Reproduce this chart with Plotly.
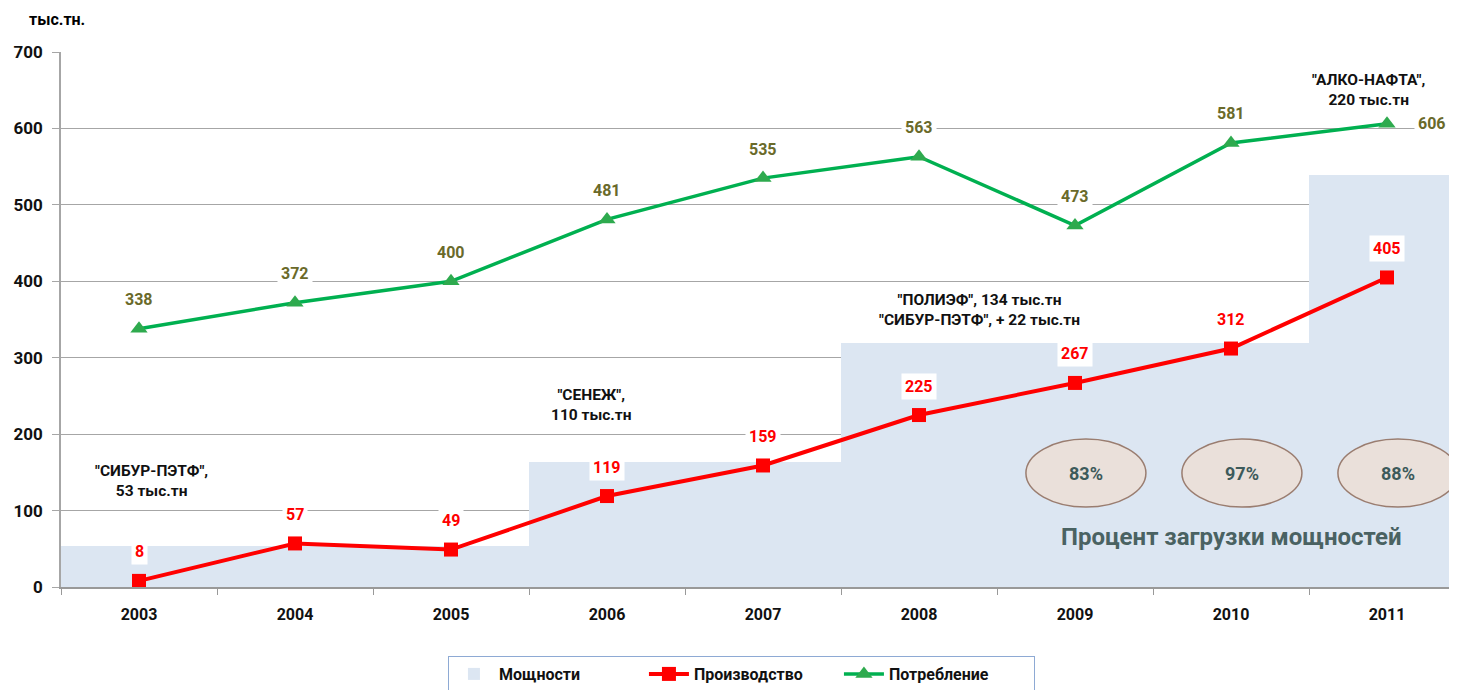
import plotly.graph_objects as go

years = ["2003", "2004", "2005", "2006", "2007", "2008", "2009", "2010", "2011"]
capacity = [53, 53, 53, 163, 163, 319, 319, 319, 539]
production = [8, 57, 49, 119, 159, 225, 267, 312, 405]
consumption = [338, 372, 400, 481, 535, 563, 473, 581, 606]
load_years = ["2009", "2010", "2011"]
load_pct = ["83%", "97%", "88%"]
plants = [
    ("\"СИБУР-ПЭТФ\",<br>53 тыс.тн", 0.08, 139),
    ("\"СЕНЕЖ\",<br>110 тыс.тн", 2.9, 238),
    ("\"ПОЛИЭФ\", 134 тыс.тн<br>\"СИБУР-ПЭТФ\", + 22 тыс.тн", 5.39, 362),
    ("\"АЛКО-НАФТА\",<br>220 тыс.тн", 7.88, 650),
]

FONT = "Roboto"
RED = "#ff0000"
GREEN = "#00b050"
OLIVE = "#6a6a2a"

fig = go.Figure()
fig.add_trace(go.Bar(x=years, y=capacity, name="Мощности", marker=dict(color="#dce6f2", line=dict(width=0)),
                     hoverinfo="skip"))
fig.add_trace(go.Scatter(x=years, y=production, name="Производство", mode="lines+markers",
                         line=dict(color=RED, width=4),
                         marker=dict(symbol="square", size=14, color=RED)))
fig.add_trace(go.Scatter(x=years, y=consumption, name="Потребление", mode="lines+markers",
                         line=dict(color=GREEN, width=3.5),
                         marker=dict(symbol="triangle-up", size=15, color="#2eaa4e")))

ann = []
for i, v in enumerate(production):
    ann.append(dict(x=i, y=v, xref="x", yref="y", text=f"<b>{v}</b>", showarrow=False, yshift=29,
                    bgcolor="white", borderpad=3, font=dict(family=FONT, size=16, color=RED)))
for i, v in enumerate(consumption):
    if i == len(years) - 1:
        ann.append(dict(x=i, y=v, xref="x", yref="y", text=f"<b>{v}</b>", showarrow=False, xshift=45, yshift=0,
                        bgcolor="white", borderpad=3, font=dict(family=FONT, size=16, color=OLIVE)))
    else:
        ann.append(dict(x=i, y=v, xref="x", yref="y", text=f"<b>{v}</b>", showarrow=False, yshift=29,
                        bgcolor="white", borderpad=3, font=dict(family=FONT, size=16, color=OLIVE)))
for txt, px, py in plants:
    ann.append(dict(x=px, y=py, xref="x", yref="y", text=f"<b>{txt}</b>", showarrow=False,
                    font=dict(family=FONT, size=15.5, color="#111111"), align="center"))

shapes = []
for yr, pct in zip(load_years, load_pct):
    idx = years.index(yr)
    shapes.append(dict(type="circle", xref="x", yref="y", xsizemode="pixel", ysizemode="pixel",
                       xanchor=idx + 0.07, yanchor=149, x0=-60, x1=60, y0=-34, y1=34,
                       fillcolor="#eae0da", line=dict(color="#9a7d70", width=1.5), layer="above"))
    ann.append(dict(x=idx + 0.07, y=149, xref="x", yref="y", text=f"<b>{pct}</b>", showarrow=False,
                    font=dict(family=FONT, size=18, color="#3d5a5a")))
ann.append(dict(x=7.0, y=65, xref="x", yref="y", text="<b>Процент загрузки мощностей</b>", showarrow=False,
                font=dict(family=FONT, size=24, color="#4a6262")))
ann.append(dict(x=-0.024, y=1.06, xref="paper", yref="paper", text="<b>тыс.тн.</b>", showarrow=False,
                xanchor="left", yanchor="middle", font=dict(family=FONT, size=16, color="black")))

fig.update_layout(
    width=1457, height=690,
    margin=dict(l=53, r=0, t=44, b=111, autoexpand=False),
    plot_bgcolor="white", paper_bgcolor="white",
    bargap=0,
    font=dict(family=FONT, size=15, color="#111111"),
    annotations=ann, shapes=shapes,
    showlegend=True,
    legend=dict(orientation="h", x=0.2756, y=-0.129, xanchor="left", yanchor="top",
                bordercolor="#8eaad4", borderwidth=1, bgcolor="white",
                font=dict(family=FONT, size=16, color="#111111", weight="bold"),
                entrywidth=140, entrywidthmode="pixels", itemwidth=40, tracegroupgap=0),
)
fig.update_xaxes(type="category", range=[-0.5, 8.5], tickson="boundaries", ticks="outside", ticklen=6,
                 tickcolor="#999999", showline=True, linecolor="#999999", linewidth=1.5, showgrid=False,
                 tickfont=dict(family=FONT, size=16, color="#111111", weight="bold"), ticklabelstandoff=12)
fig.update_yaxes(range=[0, 700], dtick=100, showgrid=True, gridcolor="#a6a6a6", gridwidth=1.2,
                 showline=True, linecolor="#a6a6a6", linewidth=1.5, ticks="outside", ticklen=7,
                 tickcolor="#a6a6a6", zeroline=False,
                 tickfont=dict(family=FONT, size=17, color="#111111", weight="bold"), ticklabelstandoff=6)

fig.write_html("out.html")
